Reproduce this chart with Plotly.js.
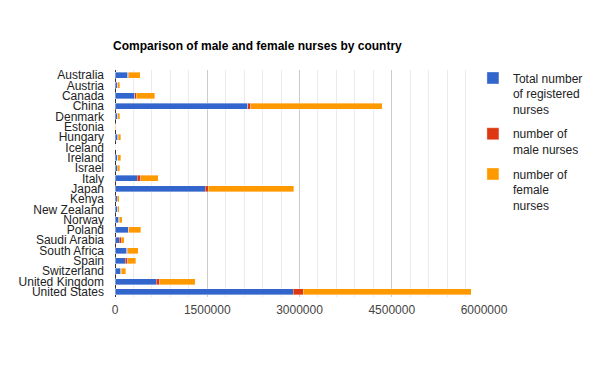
<!DOCTYPE html>
<html>
<head>
<meta charset="utf-8">
<script src="https://cdn.plot.ly/plotly-3.0.1.min.js"></script>
<style>html,body{margin:0;padding:0;background:#fff;}#chart{width:598px;height:369px;}</style>
</head>
<body>
<div id="chart"></div>
<script>
const countries = ["Australia","Austria","Canada","China","Denmark","Estonia","Hungary","Iceland","Ireland","Israel","Italy","Japan","Kenya","New Zealand","Norway","Poland","Saudi Arabia","South Africa","Spain","Switzerland","United Kingdom","United States"];
const totalNurses = [205000, 40000, 320000, 2160000, 40000, 4000, 45000, 0, 45000, 38000, 360000, 1470000, 35000, 40000, 60000, 215000, 70000, 190000, 170000, 92000, 670000, 2900000];
const maleNurses = [20000, 3000, 25000, 45000, 3000, 500, 4000, 0, 3000, 2000, 60000, 48000, 2000, 3000, 5000, 5000, 40000, 15000, 40000, 8000, 55000, 160000];
const femaleNurses = [185000, 37000, 300000, 2140000, 38000, 4000, 43000, 0, 43000, 35000, 280000, 1390000, 30000, 30000, 55000, 200000, 38000, 175000, 130000, 78000, 580000, 2730000];
const seriesNames = ["Total number<br>of registered<br>nurses", "number of<br>male nurses", "number of<br>female<br>nurses"];
const xTicks = [0, 1500000, 3000000, 4500000, 6000000];
const xTickLabels = ["0", "1500000", "3000000", "4500000", "6000000"];
const colors = ["#3366cc", "#dc3912", "#ff9900"];

const FONT = "Arial, 'Liberation Sans', sans-serif";
const seriesValues = [totalNurses, maleNurses, femaleNurses];
const traces = seriesValues.map((vals, i) => ({
  type: "bar",
  orientation: "h",
  y: countries,
  x: vals,
  name: seriesNames[i],
  legendgroup: "g" + i,
  marker: {color: colors[i], line: {color: "rgba(255,255,255,0.6)", width: 0.6}},
  hoverinfo: "none"
}));

const layout = {
  width: 598, height: 369,
  margin: {l: 115, r: 114, t: 70, b: 72, autoexpand: false},
  paper_bgcolor: "#fff", plot_bgcolor: "#fff",
  barmode: "stack",
  bargap: 0.42,
  font: {family: FONT, size: 12, color: "#222"},
  title: {
    text: "<b>Comparison of male and female nurses by country</b>",
    font: {family: FONT, size: 12, color: "#000"},
    xref: "container", x: 113/598, xanchor: "left",
    yref: "container", y: 1 - 46/369, yanchor: "middle"
  },
  xaxis: {
    range: [0, 6000000],
    tickvals: xTicks, ticktext: xTickLabels,
    tickfont: {family: FONT, size: 12, color: "#444"},
    showgrid: true, gridcolor: "#cccccc", gridwidth: 1,
    minor: {dtick: 300000, tick0: 0, showgrid: true, gridcolor: "#ebebeb", gridwidth: 1},
    zeroline: true, zerolinecolor: "#333", zerolinewidth: 1,
    showline: false, ticks: "", ticklabelstandoff: 4,
    fixedrange: true
  },
  yaxis: {
    autorange: "reversed",
    tickmode: "array", tickvals: countries, ticktext: countries,
    tickfont: {family: FONT, size: 12, color: "#222"},
    showgrid: false, zeroline: false, showline: false,
    ticks: "", ticklabelstandoff: 10,
    fixedrange: true
  },
  showlegend: true,
  legend: {
    x: 0.97, xanchor: "left",
    y: 1.028, yanchor: "top",
    valign: "top",
    traceorder: "grouped",
    tracegroupgap: 6,
    font: {family: FONT, size: 12, color: "#222"},
    bgcolor: "rgba(0,0,0,0)",
    itemclick: false, itemdoubleclick: false
  }
};

Plotly.newPlot("chart", traces, layout, {displayModeBar: false, staticPlot: true});
</script>
</body>
</html>
